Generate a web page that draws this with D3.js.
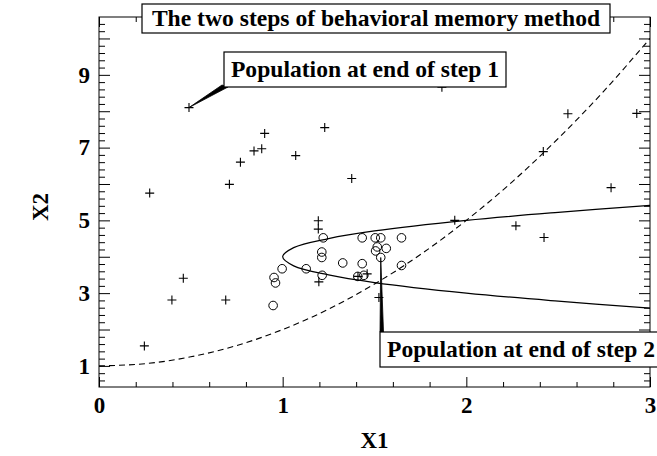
<!DOCTYPE html>
<html><head><meta charset="utf-8">
<script src="https://cdn.jsdelivr.net/npm/d3@7"></script>
<style>body{margin:0;background:#fff}svg{display:block}text{font-family:"Liberation Serif","Times New Roman",serif;font-weight:bold;fill:#000}</style>
</head><body><svg id="c" width="657" height="456"></svg>
<script>
// ---- data ----
const xDomain = [0, 3];
const yDomain = [0.42, 10.59];
const xMajorTicks = [0, 1, 2, 3];
const xTickLabels = ["0", "1", "2", "3"];
const yMajorTicks = [1, 2, 3, 4, 5, 6, 7, 8, 9, 10];
const yLabelTicks = [1, 3, 5, 7, 9];
const yTickLabels = ["1", "3", "5", "7", "9"];

// step 1 population (+)
const step1X = [0.49, 0.902, 1.867, 1.229, 2.553, 2.928, 0.276, 0.710, 0.770, 0.844, 0.886, 1.071, 1.376, 1.194, 1.194, 1.937, 2.419, 2.788, 2.270, 2.423, 1.197, 1.460, 1.524, 0.459, 0.397, 0.690, 0.247, 1.410];
const step1Y = [8.10, 7.39, 8.66, 7.55, 7.93, 7.94, 5.75, 5.99, 6.60, 6.91, 6.97, 6.78, 6.15, 4.99, 4.76, 5.00, 6.89, 5.90, 4.85, 4.53, 3.31, 3.53, 2.88, 3.41, 2.81, 2.81, 1.55, 3.46];

// step 2 population (o)
const step2X = [1.221, 1.433, 1.504, 1.534, 1.647, 1.515, 1.564, 1.506, 1.534, 1.213, 1.213, 1.327, 1.433, 1.647, 0.997, 1.128, 1.215, 1.409, 1.442, 0.953, 0.961, 0.948];
const step2Y = [4.52, 4.52, 4.52, 4.52, 4.52, 4.27, 4.23, 4.16, 3.98, 4.13, 3.98, 3.83, 3.81, 3.76, 3.67, 3.67, 3.49, 3.46, 3.49, 3.43, 3.28, 2.66];

// dashed curve (read points)
const dashX = [0, 0.25, 0.5, 0.75, 1, 1.25, 1.5, 1.75, 2, 2.25, 2.5, 2.75, 3];
const dashY = [1, 1.06, 1.25, 1.56, 2, 2.56, 3.25, 4.06, 5, 6.06, 7.25, 8.56, 10];

// solid curve (read points)
const solidX = [3, 2.5, 2, 1.5, 1.25, 1.06, 1, 1.06, 1.25, 1.5, 2, 2.5, 3];
const solidY = [5.41, 5.22, 5.0, 4.71, 4.5, 4.25, 4, 3.75, 3.5, 3.29, 3.0, 2.78, 2.59];

const titleText = "The two steps of behavioral memory method";
const label1Text = "Population at end of step 1";
const label2Text = "Population at end of step 2";
const label1Target = [0.49, 8.10];
const label2Target = [1.534, 3.98];
const xTitle = "X1";
const yTitle = "X2";

// ---- drawing ----
const L = 99, R = 650, T = 17, B = 387;
const svg = d3.select("#c");
const x = d3.scaleLinear().domain(xDomain).range([L, R]);
const y = d3.scaleLinear().domain(yDomain).range([B, T]);

const xMinor = d3.range(0.2, 3, 0.2).filter(v => Math.abs(v - Math.round(v)) > 1e-6);
const yMinor = d3.range(0.6, 10.5, 0.2).filter(v => Math.abs(v - Math.round(v)) > 1e-6);

function styleAxis(g) {
  g.select(".domain").remove();
  g.selectAll(".tick line").attr("stroke", "#000").attr("stroke-width", 1);
  g.selectAll("text").attr("font-size", 23).attr("font-family", null).attr("fill", "#000");
}
// bottom
svg.append("g").attr("transform", `translate(0,${B})`)
  .call(d3.axisBottom(x).tickValues(xMinor).tickSize(-5).tickFormat("")).call(styleAxis);
svg.append("g").attr("transform", `translate(0,${B})`)
  .call(d3.axisBottom(x).tickValues(xMajorTicks).tickSize(-10).tickPadding(10)
    .tickFormat((d, i) => xTickLabels[i])).call(styleAxis);
// top
svg.append("g").attr("transform", `translate(0,${T})`)
  .call(d3.axisTop(x).tickValues(xMinor).tickSize(-5).tickFormat("")).call(styleAxis);
svg.append("g").attr("transform", `translate(0,${T})`)
  .call(d3.axisTop(x).tickValues(xMajorTicks).tickSize(-10).tickFormat("")).call(styleAxis);
// left
svg.append("g").attr("transform", `translate(${L},0)`)
  .call(d3.axisLeft(y).tickValues(yMinor).tickSize(-6).tickFormat("")).call(styleAxis);
svg.append("g").attr("transform", `translate(${L},0)`)
  .call(d3.axisLeft(y).tickValues(yMajorTicks).tickSize(-11).tickFormat("")).call(styleAxis);
svg.append("g").attr("transform", `translate(${L},0)`)
  .call(d3.axisLeft(y).tickValues(yLabelTicks).tickSize(0).tickPadding(9)
    .tickFormat((d, i) => yTickLabels[i])).call(styleAxis);
// right
svg.append("g").attr("transform", `translate(${R},0)`)
  .call(d3.axisRight(y).tickValues(yMinor).tickSize(-6).tickFormat("")).call(styleAxis);
svg.append("g").attr("transform", `translate(${R},0)`)
  .call(d3.axisRight(y).tickValues(yMajorTicks).tickSize(-11).tickFormat("")).call(styleAxis);

// frame
svg.append("rect").attr("x", L).attr("y", T).attr("width", R - L).attr("height", B - T)
  .attr("fill", "none").attr("stroke", "#000").attr("stroke-width", 1);

// curves
svg.append("clipPath").attr("id", "pc").append("rect")
  .attr("x", L).attr("y", T).attr("width", R - L).attr("height", B - T);
svg.append("path").datum(d3.zip(dashX, dashY))
  .attr("d", d3.line().x(d => x(d[0])).y(d => y(d[1])).curve(d3.curveNatural))
  .attr("fill", "none").attr("stroke", "#000")
  .attr("stroke-width", 1.1).attr("stroke-dasharray", "6,4").attr("clip-path", "url(#pc)");
svg.append("path").datum(d3.zip(solidX, solidY))
  .attr("d", d3.line().x(d => x(d[0])).y(d => y(d[1])).curve(d3.curveCatmullRom.alpha(0.5)))
  .attr("fill", "none").attr("stroke", "#000").attr("stroke-width", 1.2).attr("clip-path", "url(#pc)");

// step 2 circles
svg.append("g").selectAll("circle").data(d3.zip(step2X, step2Y)).join("circle")
  .attr("cx", d => x(d[0])).attr("cy", d => y(d[1])).attr("r", 4.3)
  .attr("fill", "none").attr("stroke", "#000").attr("stroke-width", 1);
// step 1 plus
svg.append("g").selectAll("path").data(d3.zip(step1X, step1Y)).join("path")
  .attr("d", d => { const px = x(d[0]), py = y(d[1]), s = 4.5;
    return `M${px - s},${py}H${px + s}M${px},${py - s}V${py + s}`; })
  .attr("stroke", "#000").attr("stroke-width", 1.1).attr("fill", "none");

// annotation boxes
function box(bx, by, bw, bh, txt, tx, anchor) {
  svg.append("rect").attr("x", bx).attr("y", by).attr("width", bw).attr("height", bh)
    .attr("fill", "#fff").attr("stroke", "#000").attr("stroke-width", 1.2);
  svg.append("text").attr("x", tx).attr("y", by + bh / 2 + 7.5).attr("text-anchor", anchor)
    .attr("font-size", 23.6).text(txt);
}
box(142, 4, 468, 29, titleText, 376, "middle");

// pointer 1
{
  const bx = 224, by = 52, bw = 282, bh = 35;
  const ax = x(label1Target[0]), ay = y(label1Target[1]);
  svg.append("path").attr("d", `M${ax},${ay}L${bx - 2},${by + bh - 2}L${bx + 4},${by + bh}Z`)
    .attr("fill", "#000").attr("stroke", "#000").attr("stroke-width", 0.8);
  box(bx, by, bw, bh, label1Text, bx + bw / 2, "middle");
}
// pointer 2
{
  const bx = 380, by = 332, bw = 285, bh = 35;
  const ax = x(label2Target[0]), ay = y(label2Target[1]);
  svg.append("path").attr("d", `M${ax},${ay}L${bx},${by}L${bx + 3.5},${by}Z`)
    .attr("fill", "#000").attr("stroke", "#000").attr("stroke-width", 0.8);
  box(bx, by, bw, bh, label2Text, bx + 7, "start");
}

// axis titles
svg.append("text").attr("x", (L + R) / 2).attr("y", 448).attr("text-anchor", "middle")
  .attr("font-size", 23).text(xTitle);
svg.append("text").attr("transform", `translate(48,${(T + B) / 2 + 5}) rotate(-90)`)
  .attr("text-anchor", "middle").attr("font-size", 23).text(yTitle);
</script></body></html>
